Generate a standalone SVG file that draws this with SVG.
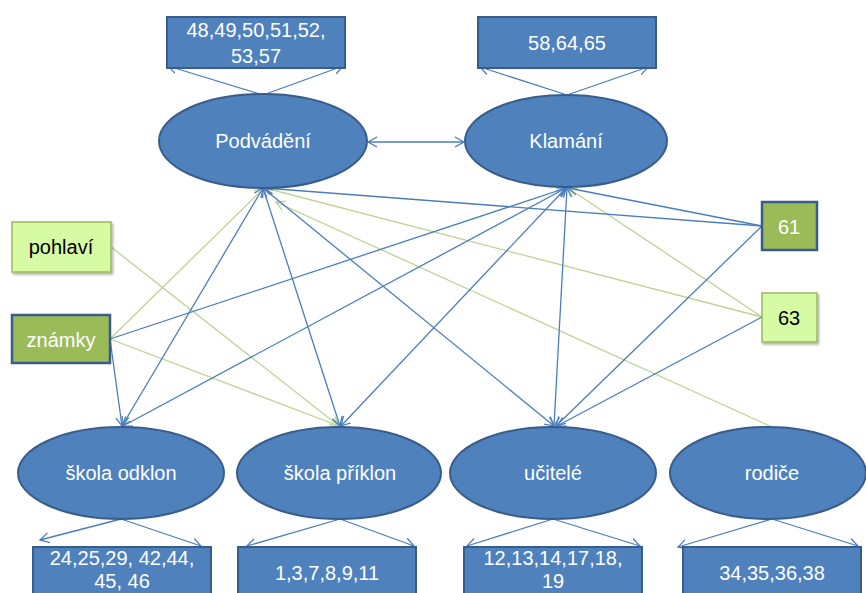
<svg xmlns="http://www.w3.org/2000/svg" width="866" height="593" viewBox="0 0 866 593">
<style>
.ell{fill:#4F81BD;stroke:#385D8A;stroke-width:2}
.box{fill:#4F81BD;stroke:#385D8A;stroke-width:2}
.gd{fill:#9BBB59;stroke:#385D8A;stroke-width:2.5}
.gl{fill:#D7FBA5;stroke:#9BBB59;stroke-width:1.5}
.t{font-family:"Liberation Sans",Arial,sans-serif;font-size:20px;text-anchor:middle;fill:#fff}
.tb{fill:#000}
.b{stroke:#4A7EBB;stroke-width:1.3;fill:none}
.g{stroke:#BDD394;stroke-width:1.3;fill:none}
.ab{marker-end:url(#mb)}
.as{marker-start:url(#mb)}
.ag{marker-end:url(#mg)}
</style>
<defs>
<marker id="mb" markerUnits="userSpaceOnUse" markerWidth="12" markerHeight="12" refX="9" refY="5" orient="auto-start-reverse" viewBox="0 0 12 10">
<path d="M0,0 L9,5 L0,10" fill="none" stroke="#4A7EBB" stroke-width="1.3"/>
</marker>
<marker id="mg" markerUnits="userSpaceOnUse" markerWidth="12" markerHeight="12" refX="9" refY="5" orient="auto-start-reverse" viewBox="0 0 12 10">
<path d="M0,0 L9,5 L0,10" fill="none" stroke="#BDD394" stroke-width="1.3"/>
</marker>
<filter id="sh" x="-10%" y="-10%" width="130%" height="130%">
<feDropShadow dx="1.5" dy="2" stdDeviation="1.2" flood-color="#000" flood-opacity="0.3"/>
</filter>
</defs>

<g id="connectors">
<line class="b ab" x1="263" y1="95" x2="168" y2="66"/>
<line class="b ab" x1="263" y1="95" x2="343" y2="66"/>
<line class="b ab" x1="567" y1="95" x2="480" y2="67"/>
<line class="b ab" x1="567" y1="95" x2="648" y2="67"/>
<line class="b ab as" x1="368" y1="142" x2="464" y2="142"/>
<line class="b ab" x1="121" y1="519" x2="40" y2="540"/>
<line class="b ab" x1="121" y1="519" x2="201" y2="546"/>
<line class="b ab" x1="340" y1="519" x2="247" y2="546"/>
<line class="b ab" x1="340" y1="519" x2="414" y2="546"/>
<line class="b ab" x1="553" y1="519" x2="467" y2="546"/>
<line class="b ab" x1="553" y1="519" x2="640" y2="546"/>
<line class="b ab" x1="772" y1="519" x2="678" y2="547"/>
<line class="b ab" x1="772" y1="519" x2="858" y2="546"/>
<line class="g ag" x1="111" y1="247" x2="339" y2="426"/>
<line class="g ag" x1="110" y1="339" x2="339" y2="426"/>
<line class="g ag" x1="110" y1="339" x2="264" y2="188"/>
<line class="g ag" x1="762" y1="317" x2="265" y2="188"/>
<line class="g ag" x1="762" y1="317" x2="568" y2="188"/>
<line class="g ag" x1="772" y1="427" x2="276" y2="202"/>
<line class="b ab" x1="762" y1="226" x2="264" y2="188"/>
<line class="b ab" x1="762" y1="226" x2="568" y2="188"/>
<line class="b ab" x1="762" y1="226" x2="556" y2="426"/>
<line class="b ab" x1="762" y1="317" x2="557" y2="426"/>
<line class="b ab" x1="110" y1="339" x2="566" y2="188"/>
<line class="b ab" x1="110" y1="339" x2="122" y2="426"/>
<line class="b ab as" x1="122" y1="426" x2="263" y2="188"/>
<line class="b ab as" x1="123" y1="426" x2="566" y2="188"/>
<line class="b ab as" x1="340" y1="426" x2="263" y2="188"/>
<line class="b ab as" x1="341" y1="426" x2="566" y2="188"/>
<line class="b ab as" x1="554" y1="426" x2="263" y2="188"/>
<line class="b ab as" x1="554" y1="426" x2="567" y2="188"/>
</g>

<g id="box-podvadeni-items">
<rect class="box" x="167" y="17" width="178" height="51"/>
<text class="t" x="256" y="37">48,49,50,51,52,</text>
<text class="t" x="256" y="63">53,57</text>
</g>
<g id="box-klamani-items">
<rect class="box" x="478" y="17" width="178" height="51"/>
<text class="t" x="567" y="50">58,64,65</text>
</g>
<g id="podvadeni">
<ellipse class="ell" cx="263" cy="141" rx="104" ry="47"/>
<text class="t" x="263" y="148">Podvádění</text>
</g>
<g id="klamani">
<ellipse class="ell" cx="566" cy="141" rx="101" ry="46"/>
<text class="t" x="566" y="148">Klamání</text>
</g>
<g id="pohlavi">
<rect class="gl" x="12" y="222" width="99" height="50" filter="url(#sh)"/>
<text class="t tb" x="61" y="254">pohlaví</text>
</g>
<g id="znamky">
<rect class="gd" x="12" y="315" width="98" height="48"/>
<text class="t" x="61" y="347">známky</text>
</g>
<g id="n61">
<rect class="gd" x="762" y="202" width="55" height="48"/>
<text class="t" x="789" y="234">61</text>
</g>
<g id="n63">
<rect class="gl" x="762" y="293" width="55" height="49" filter="url(#sh)"/>
<text class="t tb" x="789" y="325">63</text>
</g>
<g id="skola-odklon">
<ellipse class="ell" cx="121" cy="473" rx="103" ry="46"/>
<text class="t" x="121" y="480">škola odklon</text>
</g>
<g id="skola-priklon">
<ellipse class="ell" cx="339" cy="473" rx="102" ry="46"/>
<text class="t" x="340" y="480">škola příklon</text>
</g>
<g id="ucitele">
<ellipse class="ell" cx="553" cy="473" rx="103" ry="46"/>
<text class="t" x="553" y="480">učitelé</text>
</g>
<g id="rodice">
<ellipse class="ell" cx="768" cy="473" rx="98" ry="46"/>
<text class="t" x="772" y="480">rodiče</text>
</g>
<g id="box-odklon-items">
<rect class="box" x="33" y="547" width="178" height="52"/>
<text class="t" x="122" y="565">24,25,29, 42,44,</text>
<text class="t" x="122" y="588">45, 46</text>
</g>
<g id="box-priklon-items">
<rect class="box" x="238" y="547" width="178" height="52"/>
<text class="t" x="327" y="580">1,3,7,8,9,11</text>
</g>
<g id="box-ucitele-items">
<rect class="box" x="464" y="547" width="178" height="52"/>
<text class="t" x="553" y="565">12,13,14,17,18,</text>
<text class="t" x="553" y="588">19</text>
</g>
<g id="box-rodice-items">
<rect class="box" x="683" y="547" width="178" height="52"/>
<text class="t" x="772" y="580">34,35,36,38</text>
</g>
</svg>
